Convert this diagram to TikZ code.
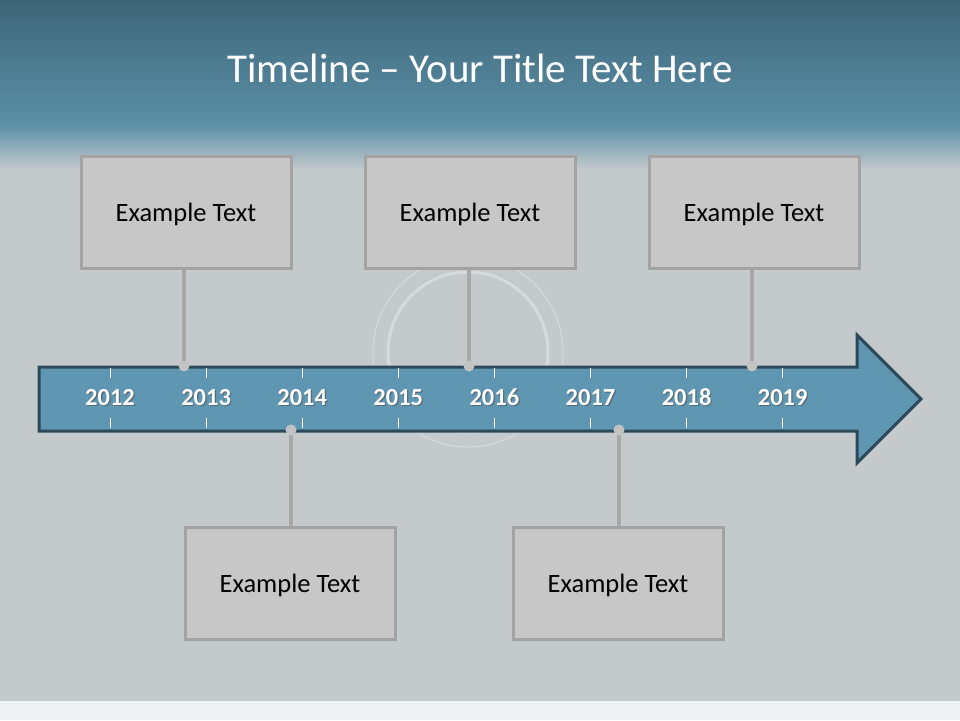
\documentclass[tikz,border=0pt]{standalone}
\usepackage{fontspec}
\setmainfont{Carlito}
\definecolor{bandtop}{HTML}{3E6577}
\definecolor{bandbot}{HTML}{5B90A8}
\definecolor{bggrey}{HTML}{C4CACC}
\definecolor{arrowfill}{HTML}{5F96B1}
\definecolor{arrowline}{HTML}{2B4958}
\definecolor{boxfill}{HTML}{C7C7C7}
\definecolor{boxline}{HTML}{A3A3A3}
\definecolor{stemgrey}{HTML}{A8A8A8}
\definecolor{dotgrey}{HTML}{C2C2C2}
\definecolor{footer}{HTML}{EEF2F3}
\begin{document}
\begin{tikzpicture}[x=1pt,y=-1pt,
  eventbox/.style={draw=boxline,line width=3pt,fill=boxfill,minimum width=210pt,minimum height=112pt,inner sep=0pt},
  boxtext/.style={font=\fontsize{26.5}{30}\selectfont,text=black},
  stem/.style={draw=stemgrey,line width=4pt},
  yearlbl/.style={font=\fontsize{24.5}{28}\selectfont\bfseries,text=white,anchor=base,inner sep=0pt},
  yearshadow/.style={font=\fontsize{24.5}{28}\selectfont\bfseries,text=black!70,opacity=0.6,anchor=base,inner sep=0pt},
  tick/.style={draw=white,line width=1pt}]
\useasboundingbox (0,0) rectangle (960,720);
% background
\fill[bggrey] (0,0) rectangle (960,720);
\shade[top color=bandtop,bottom color=bandbot] (0,0) rectangle (960,125);
\shade[top color=bandbot,bottom color=bggrey] (0,124.5) rectangle (960,170);
\fill[footer] (0,701) rectangle (960,720);
% faint background swirl
\begin{scope}[opacity=0.3]
\draw[white,line width=3pt] (468,352) circle (80);
\draw[white,line width=1pt] (468,352) circle (95);
\end{scope}
% title
\node (title) at (480,68) {\fontsize{41}{48}\selectfont\color{white}Timeline – Your Title Text Here};
% arrow
\draw[fill=arrowfill,draw=arrowline,line width=3pt,line join=miter]
  (39,367) -- (857,367) -- (857,335) -- (921,399) -- (857,463) -- (857,431) -- (39,431) -- cycle;
% ticks and years
\foreach \yr [count=\i from 0] in {2012,2013,2014,2015,2016,2017,2018,2019}{
  \pgfmathsetmacro{\xx}{110+96.1*\i}
  \draw[tick] (\xx,368) -- (\xx,378);
  \draw[tick] (\xx,418) -- (\xx,428);
  \node[yearshadow] (ys\yr) at (\xx+1.2,406.2) {\yr};
  \node[yearlbl] (y\yr) at (\xx,405) {\yr};
}
% event boxes
\node[eventbox] (b1) at (186,212) {};
\node[eventbox] (b2) at (470,212) {};
\node[eventbox] (b3) at (754,212) {};
\node[eventbox] (b4) at (290,583) {};
\node[eventbox] (b5) at (618,583) {};
\node[boxtext] (t1) at ([yshift=-2.5pt]b1.center) {Example Text};
\node[boxtext] (t2) at ([yshift=-2.5pt]b2.center) {Example Text};
\node[boxtext] (t3) at ([yshift=-2.5pt]b3.center) {Example Text};
\node[boxtext] (t4) at ([yshift=-2.5pt]b4.center) {Example Text};
\node[boxtext] (t5) at ([yshift=-2.5pt]b5.center) {Example Text};
% anchor points on arrow
\coordinate (d1) at (184,366);
\coordinate (d2) at (469,366);
\coordinate (d3) at (752,366);
\coordinate (d4) at (291,430);
\coordinate (d5) at (619,430);
% stems
\draw[stem] (b1.south) ++(-2,0) -- (d1);
\draw[stem] (b2.south) ++(-1,0) -- (d2);
\draw[stem] (b3.south) ++(-2,0) -- (d3);
\draw[stem] (b4.north) ++(1,0) -- (d4);
\draw[stem] (b5.north) ++(1,0) -- (d5);
\foreach \d in {d1,d2,d3,d4,d5}{
  \fill[dotgrey] (\d) circle (5.5);
}
\end{tikzpicture}
\end{document}
